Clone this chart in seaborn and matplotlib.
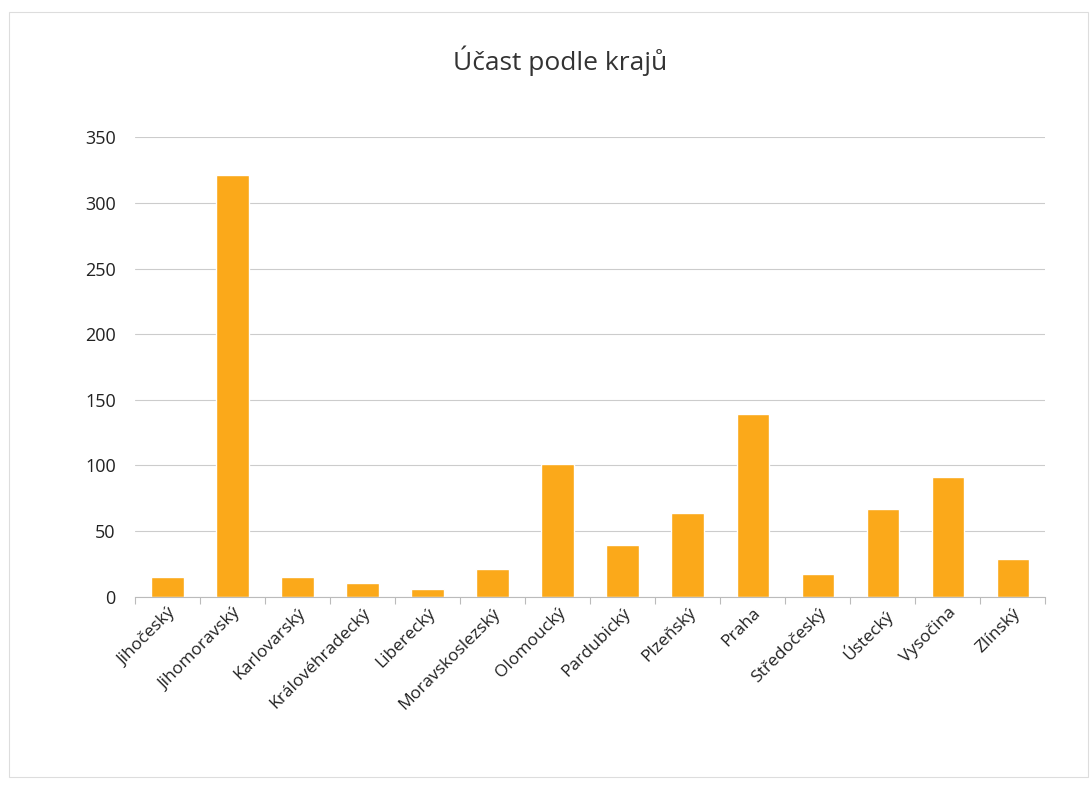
import matplotlib
matplotlib.use("Agg")
import matplotlib.pyplot as plt
import seaborn as sns
import pandas as pd
import numpy as np

categories = ["Jihočeský", "Jihomoravský", "Karlovarský", "Královéhradecký", "Liberecký",
              "Moravskoslezský", "Olomoucký", "Pardubický", "Plzeňský", "Praha",
              "Středočeský", "Ústecký", "Vysočina", "Zlínský"]
values = [15, 321, 15, 10, 6, 21, 101, 39, 64, 139, 17, 67, 91, 29]
yticks = [0, 50, 100, 150, 200, 250, 300, 350]
title = "Účast podle krajů"

sns.set_theme(style="white")
plt.rcParams['font.family'] = ['Open Sans', 'DejaVu Sans']

df = pd.DataFrame({"kraj": categories, "ucast": values})

fig = plt.figure(figsize=(10.9, 7.85), dpi=100)
ax = fig.add_axes([0.124, 0.24, 0.835, 0.585])

sns.barplot(data=df, x="kraj", y="ucast", color="#FBA91A", saturation=1, width=0.5, ax=ax)

ax.set_ylim(0, 350)
ax.set_yticks(yticks)
ax.set_yticklabels([str(t) for t in yticks], fontsize=13, color="#222222")
ax.set_xlim(-0.5, len(categories) - 0.5)
ax.set_xticks(range(len(categories)))
ax.set_xticklabels(categories, rotation=45, ha="right", rotation_mode="anchor",
                   fontsize=12.5, color="#222222")
ax.set_xlabel("")
ax.set_ylabel("")
ax.grid(axis="y", color="#cccccc", linewidth=0.8)
ax.set_axisbelow(True)
for s in ["top", "right", "left"]:
    ax.spines[s].set_visible(False)
ax.spines["bottom"].set_color("#bbbbbb")
ax.spines["bottom"].set_linewidth(0.8)
ax.tick_params(axis="y", length=0, pad=14)
ax.tick_params(axis="x", which="major", length=0, pad=6)

# minor ticks at category boundaries
ax.set_xticks(np.arange(-0.5, len(categories), 1.0), minor=True)
ax.tick_params(axis="x", which="minor", bottom=True, direction="out", length=5,
               color="#bbbbbb", width=0.8)

fig.text(0.514, 0.923, title, ha="center", va="center", fontsize=19, color="#333333")

fig.patches.append(plt.Rectangle((0.008, 0.01), 0.99, 0.975, transform=fig.transFigure,
                                 fill=False, edgecolor="#dddddd", linewidth=0.8))

fig.savefig("out.png", dpi=100, facecolor="white")
